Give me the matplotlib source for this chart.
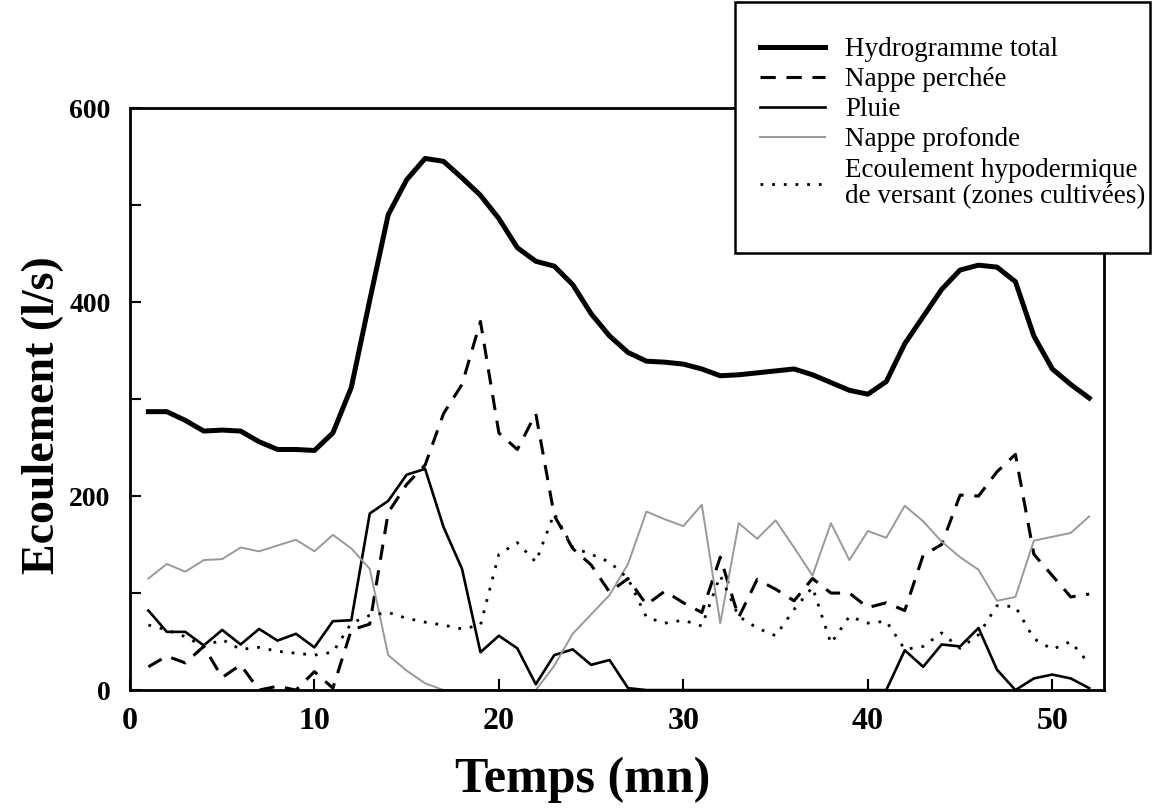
import numpy as np
import matplotlib
matplotlib.use("Agg")
import matplotlib.pyplot as plt
from matplotlib.patches import Rectangle

# time steps (mn)
temps = list(range(1, 53))

# Hydrogramme total (l/s)
total = [287, 287, 278, 267, 268, 267, 256, 248, 248, 247,
         265, 312, 402, 490, 526, 548, 545, 528, 510, 486,
         456, 442, 437, 418, 388, 365, 348, 339, 338, 336,
         331, 324, 325, 327, 329, 331, 325, 317, 309, 305,
         318, 357, 385, 413, 433, 438, 436, 421, 365, 331,
         315, 301]

# Nappe perchee
perchee = [24, 35, 28, 45, 13, 26, 0, 4, 0, 19,
           2, 62, 68, 183, 212, 232, 285, 315, 380, 265,
           248, 285, 180, 146, 129, 101, 115, 88, 102, 90,
           80, 137, 75, 114, 104, 92, 115, 100, 100, 85,
           90, 82, 139, 150, 201, 200, 225, 243, 140, 118,
           96, 99]

# Pluie
pluie = [82, 60, 60, 46, 62, 47, 63, 51, 58, 44,
         71, 72, 182, 195, 222, 228, 168, 125, 39, 56,
         43, 6, 36, 42, 26, 31, 2, 0, 0, 0,
         0, 0, 0, 0, 0, 0, 0, 0, 0, 0,
         0, 41, 24, 47, 45, 64, 21, 0, 12, 16,
         12, 2]

# Nappe profonde
profonde = [115, 130, 122, 134, 135, 147, 143, 149, 155, 143,
            160, 146, 125, 36, 20, 7, 0, 0, 0, 0,
            0, 0, 25, 58, 78, 98, 130, 184, 176, 169,
            191, 69, 172, 156, 175, 147, 118, 172, 134, 164,
            157, 190, 174, 153, 137, 124, 92, 96, 154, 158,
            162, 179]

# Ecoulement hypodermique de versant
hypoderm = [67, 62, 55, 45, 52, 42, 44, 40, 38, 36,
            39, 69, 77, 80, 74, 70, 67, 63, 67, 140,
            152, 132, 182, 147, 140, 132, 115, 75, 69, 72,
            66, 118, 76, 64, 56, 83, 106, 48, 76, 69,
            71, 42, 45, 59, 43, 57, 87, 86, 53, 42,
            50, 27]

labels = ["Hydrogramme total", "Nappe perchée", "Pluie", "Nappe profonde",
          "Ecoulement hypodermique\nde versant (zones cultivées)"]

plt.rcParams['font.family'] = ['Liberation Serif', 'DejaVu Serif']

W, H = 1152, 809
fig = plt.figure(figsize=(W / 100, H / 100), dpi=100)
ax = fig.add_axes([0.1128, 0.147, 0.8455, 0.7195])

l1, = ax.plot(temps, total, color='black', lw=3.6, solid_joinstyle='round')
l2, = ax.plot(temps, perchee, color='black', lw=2.2, linestyle=(0, (5, 3.5)))
l3, = ax.plot(temps, pluie, color='black', lw=1.9)
l4, = ax.plot(temps, profonde, color='0.6', lw=1.4)
l5, = ax.plot(temps, hypoderm, color='black', lw=2.0, linestyle=(0, (1, 3.2)))

ax.set_xlim(0, 52.8)
ax.set_ylim(0, 600)
ax.set_xticks([0, 10, 20, 30, 40, 50])
ax.set_yticks([0, 100, 200, 300, 400, 500, 600])
ax.set_yticklabels(['0', '', '200', '', '400', '', '600'])
ax.tick_params(direction='in', length=8, width=1.5)
ax.tick_params(axis='y', labelsize=20, pad=14)
ax.tick_params(axis='x', labelsize=23, pad=12)
for lab in ax.get_xticklabels() + ax.get_yticklabels():
    lab.set_fontweight('bold')
for sp in ax.spines.values():
    sp.set_linewidth(2.0)

ax.set_xlabel("Temps (mn)", fontsize=36, fontweight='bold')
ax.xaxis.set_label_coords(0.465, -0.115)
ax.set_ylabel("Ecoulement (l/s)", fontsize=33, fontweight='bold')
ax.yaxis.set_label_coords(-0.068, 0.4725)

# white legend box sitting over the top right of the axes
fig.patches.append(Rectangle((735 / W, 1 - 253 / H), 415 / W, 251 / H,
                             transform=fig.transFigure, facecolor='white',
                             edgecolor='black', linewidth=1.8, zorder=5))
leg = fig.legend([l1, l2, l3, l4, l5], labels, loc='upper left',
                 bbox_to_anchor=(760 / W, 1 - 37 / H),
                 fontsize=19.5, frameon=False, handlelength=2.4,
                 labelspacing=0.19, borderpad=0, handletextpad=0.74,
                 borderaxespad=0)
leg.set_zorder(6)
leg.get_texts()[-1].set_linespacing(1.1)

fig.savefig("out.png", dpi=100)
